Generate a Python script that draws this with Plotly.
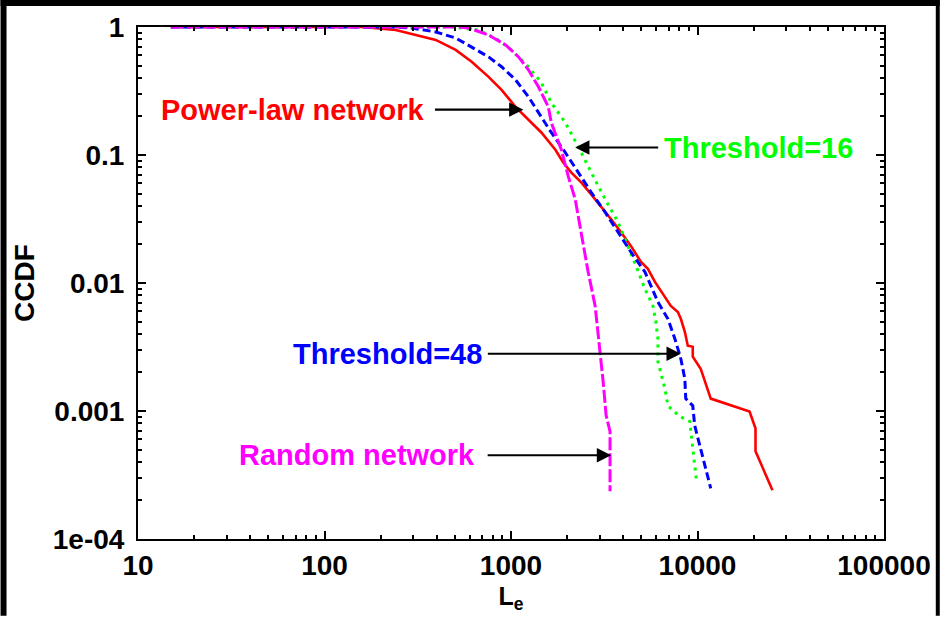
import math
import plotly.graph_objects as go

# ---------------- data ----------------
powerlaw_x = [15, 159, 241, 309, 395, 505, 615, 758, 890, 1057, 1240, 1455, 1729, 1906, 2102,
              2379, 2692, 3041, 3443, 3890, 4402, 4977, 5420, 5913, 6521, 7194, 7846, 8140,
              8551, 8870, 9432, 9432, 10400, 10937, 11776, 19020, 20470, 20470, 25230]
powerlaw_y = [1.0, 1.0, 0.948, 0.866, 0.792, 0.662, 0.535, 0.408, 0.323, 0.238, 0.189, 0.150,
              0.110, 0.0874, 0.0731, 0.0611, 0.0493, 0.0397, 0.0315, 0.0249, 0.0194, 0.0146,
              0.0129, 0.0102, 0.0082, 0.00662, 0.00594, 0.00525, 0.00416, 0.00324, 0.00318,
              0.00266, 0.00214, 0.0017, 0.00125, 0.00099, 0.00073, 0.000484, 0.00024]

th48_x = [15, 241, 294, 395, 505, 615, 758, 890, 1057, 1240, 1455, 1644, 1955, 2293, 2692,
          3198, 3752, 4402, 5226, 6133, 6936, 7561, 8140, 8551, 8650, 9432, 9660, 10660, 11776]
th48_y = [1.0, 1.0, 0.982, 0.914, 0.821, 0.699, 0.584, 0.489, 0.387, 0.285, 0.1995, 0.150,
          0.1046, 0.0731, 0.0511, 0.0357, 0.0249, 0.0174, 0.0122, 0.00711, 0.00525, 0.00367,
          0.00256, 0.00179, 0.00125, 0.0011, 0.00077, 0.000427, 0.000249]

th16_x = [15, 481, 670, 857, 1006, 1240, 1455, 1644, 1955, 2293, 2692, 3198, 3752, 4241, 4750,
          5226, 5768, 5984, 6133, 6133, 6687, 6936, 8035, 9094, 9204, 9660, 9910]
th16_y = [1.0, 1.0, 0.948, 0.792, 0.662, 0.489, 0.367, 0.256, 0.179, 0.1165, 0.0731, 0.0451,
          0.0298, 0.0194, 0.0129, 0.00898, 0.00662, 0.00497, 0.00367, 0.00243, 0.0015, 0.0011,
          0.000906, 0.000828, 0.000692, 0.000377, 0.000273]

random_x = [15, 525, 593, 758, 935, 1097, 1240, 1403, 1585, 1644, 1862, 2028, 2210, 2379, 2592,
            2826, 3005, 3119, 3236, 3396, 3396]
random_y = [1.0, 1.0, 0.982, 0.866, 0.724, 0.584, 0.463, 0.341, 0.238, 0.179, 0.110, 0.068,
            0.0451, 0.0249, 0.0122, 0.00662, 0.0029, 0.0017, 0.000923, 0.000692, 0.000236]

x_tickvals = [10, 100, 1000, 10000, 100000]
x_ticktext = ["10", "100", "1000", "10000", "100000"]
y_tickvals = [1e-4, 1e-3, 1e-2, 1e-1, 1]
y_ticktext = ["1e-04", "0.001", "0.01", "0.1", "1"]

# labels: (text, color, arrow head x, arrow head y, text offset px, start standoff px)
labels = [
    ("Power-law network", "#FF0000", 1166, 0.226, -230, 8),
    ("Threshold=16", "#00FF00", 2208, 0.1144, 183, 4),
    ("Threshold=48", "#0000FF", 8140, 0.0028, -293, 4),
    ("Random network", "#FF00FF", 3443, 0.000451, -254, 11),
]

FONT = "Liberation Sans, Arial, Helvetica, sans-serif"

fig = go.Figure()
fig.add_trace(go.Scatter(x=powerlaw_x, y=powerlaw_y, mode="lines",
                         line=dict(color="#FF0000", width=2.6)))
fig.add_trace(go.Scatter(x=th16_x, y=th16_y, mode="lines",
                         line=dict(color="#00FF00", width=3, dash="3px,5px")))
fig.add_trace(go.Scatter(x=th48_x, y=th48_y, mode="lines",
                         line=dict(color="#0000FF", width=3, dash="8px,4px")))
fig.add_trace(go.Scatter(x=random_x, y=random_y, mode="lines",
                         line=dict(color="#FF00FF", width=3, dash="13px,3px")))

annotations = []
for text, color, hx, hy, off, sso in labels:
    annotations.append(dict(
        x=math.log10(hx), y=math.log10(hy), xref="x", yref="y", text=text,
        showarrow=True, ax=off, ay=0, axref="pixel", ayref="pixel",
        arrowhead=2, arrowsize=1.3, arrowwidth=2.2, arrowcolor="black",
        standoff=0, startstandoff=sso,
        font=dict(family=FONT, size=29, color=color, weight="bold")))

W, H = 943, 618
ML, MR, MT, MB = 138, 56, 27, 77
pw, ph = W - ML - MR, H - MT - MB


def px_x(p):
    return (p - ML) / pw


def px_y(p):
    return (H - MB - p) / ph


shapes = [
    dict(type="rect", xref="paper", yref="paper", x0=px_x(0), x1=px_x(6), y0=px_y(H), y1=px_y(0),
         fillcolor="black", line=dict(width=0), layer="above"),
    dict(type="rect", xref="paper", yref="paper", x0=px_x(0), x1=px_x(W), y0=px_y(6), y1=px_y(0),
         fillcolor="black", line=dict(width=0), layer="above"),
    dict(type="rect", xref="paper", yref="paper", x0=px_x(939), x1=px_x(W), y0=px_y(H), y1=px_y(0),
         fillcolor="black", line=dict(width=0), layer="above"),
]

axis_common = dict(
    type="log", showgrid=False, zeroline=False, showline=True, linecolor="black",
    linewidth=2, mirror="allticks", ticks="inside", ticklen=8, tickwidth=2,
    tickcolor="black",
    tickfont=dict(family=FONT, size=28, color="black", weight="bold"),
    minor=dict(ticks="inside", ticklen=4, tickwidth=1.5, tickcolor="black",
               dtick="D1", showgrid=False),
)

fig.update_layout(
    width=W, height=H,
    margin=dict(l=ML, r=MR, t=MT, b=MB),
    paper_bgcolor="white", plot_bgcolor="white",
    showlegend=False,
    xaxis=dict(range=[1, 5], tickmode="array", tickvals=x_tickvals, ticktext=x_ticktext,
               title=dict(text="L<sub>e</sub>", standoff=8,
                          font=dict(family=FONT, size=25, color="black", weight="bold")),
               **axis_common),
    yaxis=dict(range=[-4, 0], tickmode="array", tickvals=y_tickvals, ticktext=y_ticktext,
               ticklabelstandoff=6,
               title=dict(text="CCDF", standoff=10,
                          font=dict(family=FONT, size=28, color="black", weight="bold")),
               **axis_common),
    annotations=annotations,
    shapes=shapes,
)

fig.write_html(
    "out.html",
    config={"displayModeBar": False},
    post_script="document.body.style.margin='0';document.body.style.padding='0';"
                "document.body.style.overflow='hidden';",
)
